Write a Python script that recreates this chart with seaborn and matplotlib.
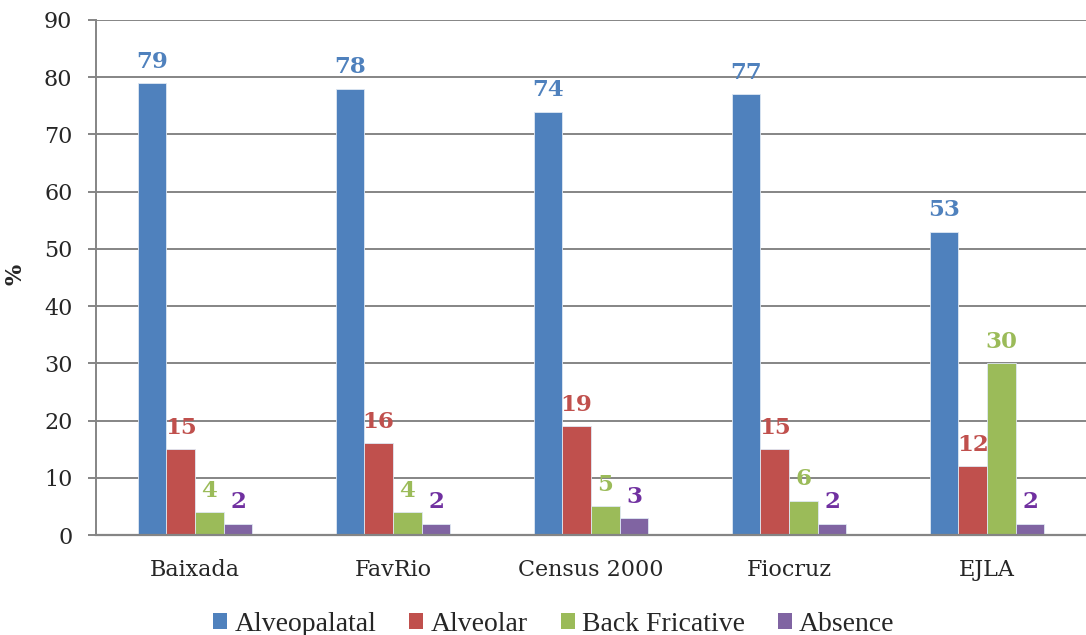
import matplotlib
matplotlib.use("Agg")
import matplotlib.pyplot as plt
import seaborn as sns
import pandas as pd
from matplotlib.patches import Patch

categories = ["Baixada", "FavRio", "Census 2000", "Fiocruz", "EJLA"]
series_names = ["Alveopalatal", "Alveolar", "Back Fricative", "Absence"]
alveopalatal = [79, 78, 74, 77, 53]
alveolar = [15, 16, 19, 15, 12]
back_fricative = [4, 4, 5, 6, 30]
absence = [2, 2, 3, 2, 2]
y_ticks = [0, 10, 20, 30, 40, 50, 60, 70, 80, 90]

bar_colors = ["#4F81BD", "#C0504D", "#9BBB59", "#8064A2"]
label_colors = ["#4F81BD", "#C0504D", "#9BBB59", "#7030A0"]

rows = []
for name, vals in zip(series_names, [alveopalatal, alveolar, back_fricative, absence]):
    for c, v in zip(categories, vals):
        rows.append({"cat": c, "series": name, "val": v})
df = pd.DataFrame(rows)

sns.set_style("white")
plt.rcParams["font.family"] = ["DejaVu Serif"]

fig = plt.figure(figsize=(10.86, 6.35), dpi=100)
ax = fig.add_axes([96 / 1086, 1 - 535 / 635, 1 - 96 / 1086, (535 - 20) / 635])

sns.barplot(data=df, x="cat", y="val", hue="series", order=categories,
            hue_order=series_names, palette=bar_colors, saturation=1,
            width=0.58, edgecolor="#dfe8f3", linewidth=0.6, ax=ax, legend=False)

ax.set_xlim(-0.5, 4.5)
ax.set_ylim(0, 90)
ax.set_yticks(y_ticks)
ax.yaxis.grid(True, color="#858585", linewidth=1.4)
ax.set_axisbelow(True)
for s in ["top", "right"]:
    ax.spines[s].set_visible(False)
ax.spines["left"].set_color("#858585")
ax.spines["left"].set_linewidth(1.4)
ax.spines["bottom"].set_color("#858585")
ax.spines["bottom"].set_linewidth(1.6)
ax.tick_params(axis="y", which="both", left=True, length=6, width=1.4, color="#858585",
               pad=11, labelsize=16)
ax.tick_params(axis="x", bottom=False, pad=14, labelsize=16)
ax.set_xlabel("")
ax.set_ylabel("%", fontsize=16, fontweight="bold")
ax.yaxis.set_label_coords(-0.07, 0.505)

for container, col in zip(ax.containers, label_colors):
    for patch in container.patches:
        h = patch.get_height()
        xc = patch.get_x() + patch.get_width() / 2
        ax.annotate(f"{h:.0f}", (xc, h), xytext=(0, 11), textcoords="offset points",
                    ha="center", va="baseline", color=col, fontsize=16.5,
                    fontweight="bold", annotation_clip=False)

handles = [Patch(facecolor=c, edgecolor="none") for c in bar_colors]
fig.legend(handles, series_names, loc="lower center", bbox_to_anchor=(0.51, -0.042),
           ncol=4, frameon=False, handlelength=0.5, handleheight=0.5,
           handletextpad=0.25, columnspacing=1.2,
           prop={"family": "Liberation Serif", "size": 20})

fig.savefig("out.png", dpi=100)
